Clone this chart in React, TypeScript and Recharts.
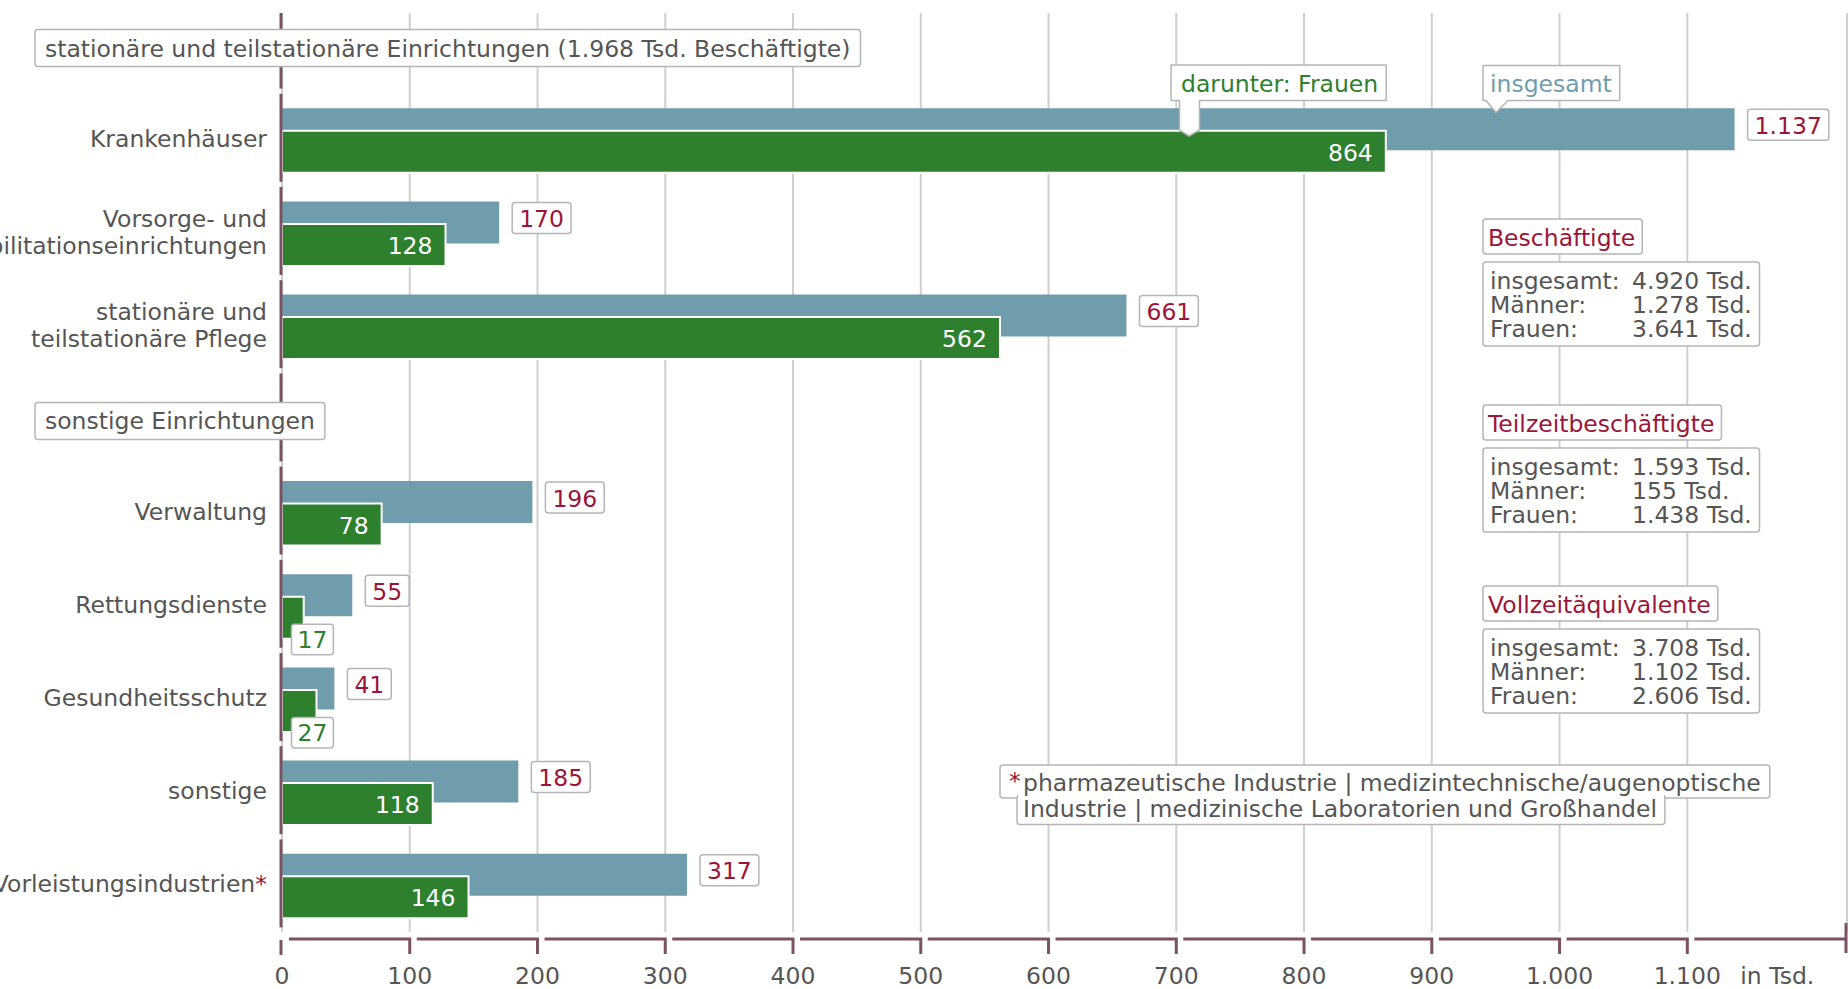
import { Bar, BarChart, CartesianGrid, LabelList, XAxis, YAxis } from "recharts";

// rows of the chart; rows without values are the two section headers
const categories = [
  "stationäre und teilstationäre Einrichtungen (1.968 Tsd. Beschäftigte)",
  "Krankenhäuser",
  "Vorsorge- und\nRehabilitationseinrichtungen",
  "stationäre und\nteilstationäre Pflege",
  "sonstige Einrichtungen",
  "Verwaltung",
  "Rettungsdienste",
  "Gesundheitsschutz",
  "sonstige",
  "Vorleistungsindustrien*",
];
const totalValues = [null, 1137, 170, 661, null, 196, 55, 41, 185, 317];
const womenValues = [null, 864, 128, 562, null, 78, 17, 27, 118, 146];
const xTicks = [0, 100, 200, 300, 400, 500, 600, 700, 800, 900, 1000, 1100];

const summaryTitles = ["Beschäftigte", "Teilzeitbeschäftigte", "Vollzeitäquivalente"];
const summaryRowLabels = ["insgesamt:", "Männer:", "Frauen:"];
const summaryValues = [
  ["4.920 Tsd.", "1.278 Tsd.", "3.641 Tsd."],
  ["1.593 Tsd.", "155 Tsd.", "1.438 Tsd."],
  ["3.708 Tsd.", "1.102 Tsd.", "2.606 Tsd."],
];
const footnoteLines = [
  "pharmazeutische Industrie | medizintechnische/augenoptische",
  "Industrie | medizinische Laboratorien und Großhandel",
];

const W = 1848;
const H = 989;
const Y_AXIS_W = 282;
const X_AXIS_H = 56;
const X_MAX = 1225;
const PLOT_LEFT = Y_AXIS_W;
const PLOT_RIGHT = W - 1;
const PLOT_BOTTOM = H - X_AXIS_H;
const PX_PER_UNIT = (PLOT_RIGHT - PLOT_LEFT) / X_MAX;

const FONT = '"DejaVu Sans", Verdana, sans-serif';
const FS = 23.5;
const TEAL = "#6f9dac";
const GREEN = "#2e7f2e";
const MAROON = "#9b1538";
const TEXT = "#555555";
const AXIS = "#7b5262";
const BOX = "#b5b5b5";
const GRID = "#cfcfcf";

const data = categories.map((name, i) => ({
  name,
  total: totalValues[i],
  women: womenValues[i],
}));

let measureCtx: CanvasRenderingContext2D | null = null;
function textWidth(s: string): number {
  if (!measureCtx) measureCtx = document.createElement("canvas").getContext("2d");
  if (!measureCtx) return s.length * FS * 0.6;
  measureCtx.font = `${FS}px "DejaVu Sans"`;
  return measureCtx.measureText(s).width;
}

function formatDe(v: number): string {
  return String(v).replace(/\B(?=(\d{3})+(?!\d))/g, ".");
}

function isHeader(name: string) {
  const i = categories.indexOf(name);
  return i >= 0 && totalValues[i] == null;
}

function CategoryTick(props: any) {
  const { y, payload } = props;
  const name: string = payload.value;
  const seg = (
    <line
      x1={PLOT_LEFT - 1}
      x2={PLOT_LEFT - 1}
      y1={Math.max(y - 47, 13)}
      y2={y + 41}
      stroke={AXIS}
      strokeWidth={3}
    />
  );
  if (isHeader(name)) {
    const w = textWidth(name) + 20;
    return (
      <g>
        {seg}
        <rect x={35} y={y - 18} width={w} height={37} rx={3} fill="#fff" stroke={BOX} strokeWidth={1.5} />
        <text x={45} y={y + 1} dominantBaseline="central" fill={TEXT} fontSize={FS} fontFamily={FONT}>
          {name}
        </text>
      </g>
    );
  }
  const lines = name.split("\n");
  const lineH = 27;
  const y0 = y - ((lines.length - 1) * lineH) / 2 - 2;
  return (
    <g>
      {seg}
      <text
        x={PLOT_LEFT - 15}
        y={y0}
        textAnchor="end"
        dominantBaseline="central"
        fill={TEXT}
        fontSize={FS}
        fontFamily={FONT}
      >
        {lines.map((line, i) => {
          const star = line.endsWith("*");
          return (
            <tspan key={i} x={PLOT_LEFT - 15} dy={i === 0 ? 0 : lineH}>
              {star ? line.slice(0, -1) : line}
              {star && <tspan fill={MAROON}>*</tspan>}
            </tspan>
          );
        })}
      </text>
    </g>
  );
}

function ValueTick(props: any) {
  const { x, payload } = props;
  const v: number = payload.value;
  const ay = PLOT_BOTTOM + 6;
  const step = 100 * PX_PER_UNIT;
  const last = v === xTicks[xTicks.length - 1];
  return (
    <g>
      {v === 0 ? (
        <line x1={x - 1} x2={x - 1} y1={ay + 1} y2={ay + 16} stroke={AXIS} strokeWidth={3} />
      ) : (
        <path d={`M${x - step + 7},${ay} H${x} V${ay + 15}`} fill="none" stroke={AXIS} strokeWidth={3} />
      )}
      {last && (
        <>
          <path d={`M${x + 7},${ay} H${PLOT_RIGHT - 1}`} fill="none" stroke={AXIS} strokeWidth={3} />
          <line x1={PLOT_RIGHT - 1} x2={PLOT_RIGHT - 1} y1={ay - 16} y2={ay + 14} stroke={AXIS} strokeWidth={3} />
          <text x={x + 53} y={976} dominantBaseline="central" fill={TEXT} fontSize={FS} fontFamily={FONT}>
            in Tsd.
          </text>
        </>
      )}
      <text x={x} y={976} textAnchor="middle" dominantBaseline="central" fill={TEXT} fontSize={FS} fontFamily={FONT}>
        {formatDe(v)}
      </text>
    </g>
  );
}

function TotalLabel(props: any) {
  const { x, y, width, height, value } = props;
  if (value == null) return null;
  const label = formatDe(Number(value));
  const bx = Number(x) + Number(width) + 13;
  const cy = Number(y) + Number(height) / 2 - 4.5;
  const w = textWidth(label) + 14;
  return (
    <g>
      <rect x={bx} y={cy - 15.5} width={w} height={31} rx={3} fill="#fff" stroke={BOX} strokeWidth={1.5} />
      <text x={bx + w / 2} y={cy + 1} textAnchor="middle" dominantBaseline="central" fill={MAROON} fontSize={FS} fontFamily={FONT}>
        {label}
      </text>
    </g>
  );
}

function WomenLabel(props: any) {
  const { x, y, width, height, value } = props;
  if (value == null) return null;
  const label = formatDe(Number(value));
  const bx = Number(x);
  const by = Number(y);
  const bw = Number(width);
  const bh = Number(height);
  if (bw > 60) {
    return (
      <text
        x={bx + bw - 13}
        y={by + bh / 2 + 1}
        textAnchor="end"
        dominantBaseline="central"
        fill="#fff"
        fontSize={FS}
        fontFamily={FONT}
      >
        {label}
      </text>
    );
  }
  const w = textWidth(label) + 12;
  const top = by + bh - 14.5;
  return (
    <g>
      <rect x={bx + 9.5} y={top} width={w} height={30.5} rx={3} fill="#fff" stroke={BOX} strokeWidth={1.5} />
      <text x={bx + 9.5 + w / 2} y={top + 16} textAnchor="middle" dominantBaseline="central" fill={GREEN} fontSize={FS} fontFamily={FONT}>
        {label}
      </text>
    </g>
  );
}

const SUMMARY_TOPS = [219, 405, 586];
const SUMMARY_LEFT = 1483;
const ROW_H = 24;

function Overlay() {
  // callout bubbles
  const f = { x0: 1171, x1: 1171 + textWidth("darunter: Frauen") + 18, y0: 65, y1: 100.5 };
  const g = { x0: 1483, x1: 1483 + textWidth("insgesamt") + 15, y0: 65.5, y1: 100.5 };
  const foot1W = 23 + textWidth(footnoteLines[0]) + 9;
  const foot2W = 6 + textWidth(footnoteLines[1]) + 8;
  return (
    <svg width={W} height={H} style={{ position: "absolute", left: 0, top: 0, pointerEvents: "none" }}>
      <path
        d={`M${f.x0},${f.y0} H${f.x1} V${f.y1} H${f.x0 + 28.5} V130 L${f.x0 + 18},136 L${f.x0 + 8.5},130 V${f.y1} H${f.x0} Z`}
        fill="#fff"
        stroke={BOX}
        strokeWidth={1.5}
        strokeLinejoin="round"
      />
      <text x={f.x0 + 10} y={(f.y0 + f.y1) / 2 + 1} dominantBaseline="central" fill={GREEN} fontSize={FS} fontFamily={FONT}>
        darunter: Frauen
      </text>
      <path
        d={`M${g.x0},${g.y0} H${g.x1} V${g.y1} H${g.x0 + 25} L${g.x0 + 13},${g.y1 + 12} L${g.x0 + 3},${g.y1} H${g.x0} Z`}
        fill="#fff"
        stroke={BOX}
        strokeWidth={1.5}
        strokeLinejoin="round"
      />
      <text x={g.x0 + 7} y={(g.y0 + g.y1) / 2 + 1} dominantBaseline="central" fill={TEAL} fontSize={FS} fontFamily={FONT}>
        insgesamt
      </text>

      {summaryTitles.map((title, k) => {
        const top = SUMMARY_TOPS[k];
        const dTop = top + 43;
        return (
          <g key={title}>
            <rect x={SUMMARY_LEFT} y={top} width={textWidth(title) + 12} height={35} rx={3} fill="#fff" stroke={BOX} strokeWidth={1.5} />
            <text x={SUMMARY_LEFT + 5} y={top + 18.5} dominantBaseline="central" fill={MAROON} fontSize={FS} fontFamily={FONT}>
              {title}
            </text>
            <rect x={SUMMARY_LEFT} y={dTop} width={276.5} height={84} rx={3} fill="#fff" stroke={BOX} strokeWidth={1.5} />
            <text x={SUMMARY_LEFT + 7} y={dTop + 19} dominantBaseline="central" fill={TEXT} fontSize={FS} fontFamily={FONT}>
              {summaryRowLabels.map((lab, r) => (
                <tspan key={lab} x={SUMMARY_LEFT + 7} dy={r === 0 ? 0 : ROW_H}>
                  {lab}
                </tspan>
              ))}
            </text>
            <text x={SUMMARY_LEFT + 149} y={dTop + 19} dominantBaseline="central" fill={TEXT} fontSize={FS} fontFamily={FONT}>
              {summaryValues[k].map((val, r) => (
                <tspan key={r} x={SUMMARY_LEFT + 149} dy={r === 0 ? 0 : ROW_H}>
                  {val}
                </tspan>
              ))}
            </text>
          </g>
        );
      })}

      <rect x={1000} y={765} width={foot1W} height={33} rx={3} fill="#fff" stroke={BOX} strokeWidth={1.5} />
      <rect x={1017} y={795} width={foot2W} height={29.5} rx={3} fill="#fff" stroke={BOX} strokeWidth={1.5} />
      <rect x={1018} y={791} width={foot2W - 2} height={8} fill="#fff" />
      <text x={1009} y={781} dominantBaseline="central" fill={MAROON} fontSize={FS} fontFamily={FONT}>
        *
      </text>
      <text x={1023} y={783} dominantBaseline="central" fill={TEXT} fontSize={FS} fontFamily={FONT}>
        <tspan x={1023}>{footnoteLines[0]}</tspan>
        <tspan x={1023} dy={26}>
          {footnoteLines[1]}
        </tspan>
      </text>
    </svg>
  );
}

export default function App() {
  return (
    <div style={{ position: "absolute", left: 0, top: 0, width: W, height: H, background: "#fff", overflow: "hidden" }}>
      <BarChart
        width={W}
        height={H}
        data={data}
        layout="vertical"
        margin={{ top: 1, right: W - PLOT_RIGHT, bottom: 0, left: 0 }}
        barGap={-19.5}
      >
        <CartesianGrid horizontal={false} stroke={GRID} strokeWidth={2} y={13} height={PLOT_BOTTOM - 1 - 13} />
        <Bar dataKey="total" fill={TEAL} barSize={42} isAnimationActive={false}>
          <LabelList dataKey="total" content={TotalLabel} />
        </Bar>
        <Bar dataKey="women" fill={GREEN} stroke="#fff" strokeWidth={2} barSize={42} isAnimationActive={false}>
          <LabelList dataKey="women" content={WomenLabel} />
        </Bar>
        <XAxis
          type="number"
          domain={[0, X_MAX]}
          ticks={xTicks}
          interval={0}
          height={X_AXIS_H}
          axisLine={false}
          tickLine={false}
          tick={ValueTick}
        />
        <YAxis
          type="category"
          dataKey="name"
          width={Y_AXIS_W}
          interval={0}
          axisLine={false}
          tickLine={false}
          tick={CategoryTick}
        />
      </BarChart>
      <Overlay />
    </div>
  );
}
